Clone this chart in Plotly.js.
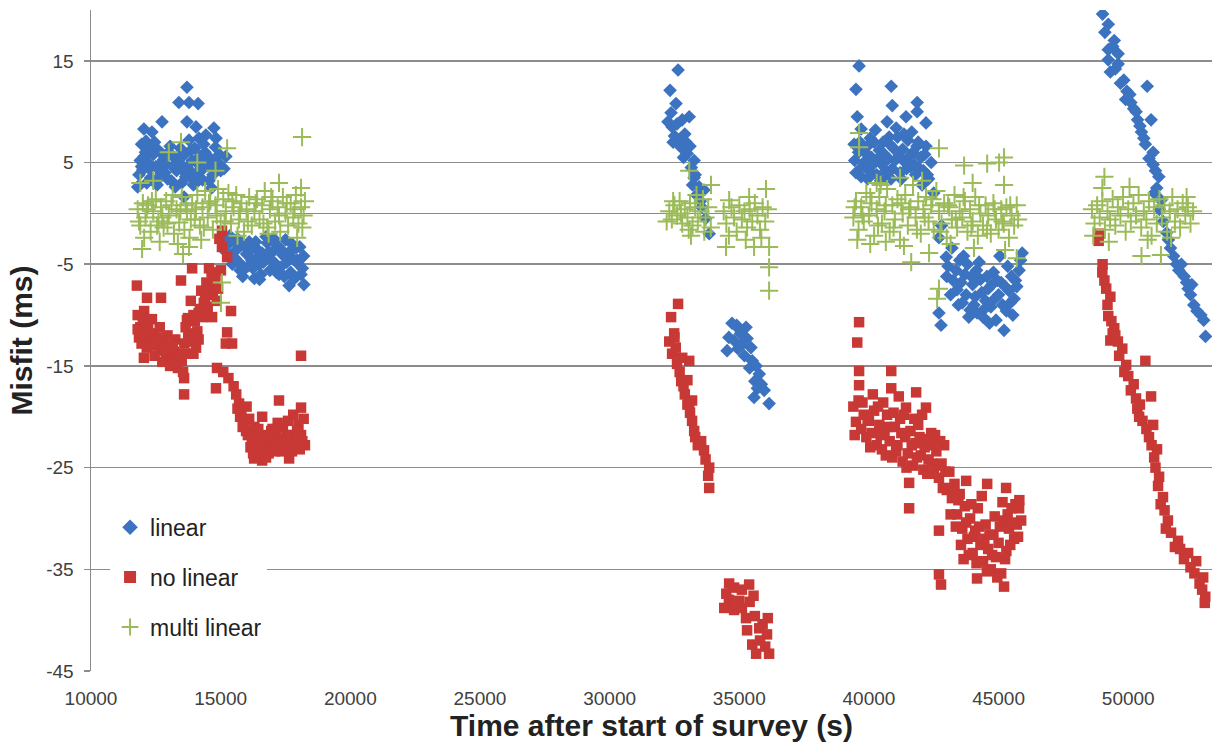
<!DOCTYPE html>
<html>
<head>
<meta charset="utf-8">
<script src="https://cdn.plot.ly/plotly-3.0.1.min.js"></script>
<style>html,body{margin:0;padding:0;background:#fff;}#chart{width:1212px;height:747px;}</style>
</head>
<body>
<div id="chart"></div>
<script>
// Series names
const seriesNames = ["linear", "no linear", "multi linear"];

// Y tick values (ms)
const yTicks = [-45, -35, -25, -15, -5, 5, 15];
// X tick values (s)
const xTicks = [10000, 15000, 20000, 25000, 30000, 35000, 40000, 45000, 50000];

// linear: [time (s), misfit (ms)]
const linearPts = [
  [13700,12.4],[13390,10.9],[13780,10.9],[14130,10.8],[12740,9.0],[13700,9.0],[12040,8.3],[12350,8.0],[14050,8.5],[14740,8.4],
  [12120,7.1],[14160,7.4],[14430,7.7],[14820,7.4],[13780,7.2],[13590,1.6],[15130,4.4],
  [11900,5.2],[12000,4.3],[12100,6.0],[12200,5.0],[12300,3.5],[12400,5.8],[12500,4.6],[12600,6.2],[12700,3.9],[12800,5.3],
  [12900,4.8],[13000,6.0],[13100,3.2],[13200,5.5],[13300,4.2],[13400,5.0],[13500,3.0],[13600,5.8],[13700,4.5],[13800,3.6],
  [13900,5.2],[14000,6.4],[14100,4.0],[14200,5.6],[14300,3.3],[14400,6.0],[14500,4.7],[14600,5.4],[14700,3.8],[14800,6.5],
  [14900,5.0],[15000,4.2],[12150,3.0],[12550,2.8],[13250,2.6],[13950,2.8],[14650,2.5],[11950,6.8],[12450,7.0],[13050,6.6],
  [14350,6.8],[11850,3.8],[12250,4.4],[12850,4.0],[13450,6.4],[14050,3.0],[14550,3.2],[15200,5.6],[11800,2.6],
  [11950,4.6],[12050,5.6],[12350,6.4],[12650,4.8],[12750,5.8],[12950,3.4],[13150,4.6],[13350,5.6],[13550,4.2],[13650,3.6],
  [13850,6.2],[14150,4.8],[14250,4.2],[14450,5.2],[14750,4.6],[14950,5.8],[12600,3.4],[13900,4.0],
  [15100,-2.3],[15300,-3.0],[15400,-4.2],[15500,-2.6],[15600,-3.6],[15700,-4.8],[15800,-3.1],[15900,-5.5],[16000,-4.0],[16100,-2.8],
  [16200,-4.6],[16300,-6.4],[16400,-3.5],[16500,-5.0],[16600,-3.9],[16700,-4.4],[16800,-2.9],[16900,-5.6],[17000,-3.8],[17100,-4.9],
  [17200,-3.2],[17300,-5.3],[17400,-4.1],[17500,-2.6],[17600,-3.9],[17640,-7.1],[17700,-5.8],[17800,-4.5],[17900,-3.4],[18000,-5.0],
  [18100,-6.0],[18210,-7.0],[18200,-4.2],[15850,-6.2],[16500,-6.5],[17250,-6.0],[15450,-5.0],[16750,-2.3],
  [15200,-3.8],[15350,-2.2],[15550,-4.4],[15650,-2.5],[15750,-5.6],[15950,-3.2],[16050,-5.2],[16150,-3.6],[16250,-5.4],[16350,-2.8],
  [16450,-4.2],[16550,-6.0],[16650,-4.8],[16850,-3.8],[16950,-4.6],[17050,-2.5],[17150,-5.8],[17350,-3.6],[17450,-6.2],[17550,-4.8],
  [17750,-3.0],[17850,-6.4],[17950,-4.6],[18050,-3.3],[18150,-5.4],
  [32640,14.1],[32330,12.1],[32560,10.8],[32370,9.9],[33070,9.5],[32250,9.0],[32410,8.5],[32600,8.8],[32800,9.2],[32500,7.6],
  [32680,7.2],[32900,7.8],[32750,6.5],[32990,5.9],[33100,6.6],[32850,5.5],[33260,5.2],[33150,4.5],[33300,3.8],[33260,3.5],
  [33450,2.6],[33350,1.8],[33640,2.3],[33500,1.2],[33840,-2.0],[32450,7.0],[32950,7.0],[33200,2.8],[33550,0.6],[33700,-0.5],
  [34720,-10.8],[35260,-11.2],[34900,-11.0],[35050,-11.8],[34600,-12.2],[34800,-12.5],[35100,-12.9],[35300,-12.3],[34530,-13.5],[34950,-13.3],
  [35200,-14.0],[35500,-14.5],[35400,-15.2],[35650,-15.0],[35770,-15.8],[35600,-16.5],[35850,-16.8],[35700,-17.2],[35960,-17.4],[35570,-18.1],
  [36150,-18.7],[35450,-13.2],[35000,-11.4],
  [39620,14.5],[39500,12.2],[40860,12.5],[40900,10.6],[41860,10.9],[41860,10.0],[39550,9.5],[40700,9.0],[41430,9.5],[42200,8.9],
  [39700,8.3],[40780,7.5],[39430,6.8],
  [39600,6.0],[39800,5.0],[39900,6.5],[40000,4.2],[40100,5.5],[40200,7.0],[40300,3.8],[40400,6.2],[40500,4.8],[40600,5.8],
  [40700,3.5],[40800,6.8],[40900,4.4],[41000,5.2],[41100,7.5],[41200,4.0],[41300,6.3],[41400,5.0],[41500,7.2],[41600,4.6],
  [41700,6.0],[41800,3.8],[41900,7.0],[42000,5.5],[42100,4.2],[42200,6.6],[42300,3.4],[42400,5.0],[39500,4.0],[39700,3.6],
  [40250,8.2],[41050,8.4],[41650,8.0],[42050,2.8],[42500,2.0],[39450,5.2],
  [39650,7.0],[39750,4.6],[39850,6.0],[39950,3.4],[40050,7.4],[40150,4.8],[40350,5.4],[40450,3.2],[40550,7.0],[40650,4.2],
  [40750,5.4],[40850,3.4],[40950,6.4],[41150,5.6],[41250,3.4],[41350,7.8],[41450,4.4],[41550,5.6],[41750,4.8],[41850,6.6],
  [41950,4.4],[42150,5.8],[42250,3.8],
  [42700,-2.4],[42980,-4.3],[43360,-5.6],[42800,-1.2],[43000,-6.2],[43200,-3.4],[43400,-7.5],[43500,-4.6],[43600,-8.8],[43700,-6.0],
  [43800,-5.0],[43900,-9.5],[44000,-7.0],[44100,-8.2],[44170,-9.8],[44300,-6.5],[44400,-10.2],[44500,-8.6],[44600,-7.4],[44700,-9.2],
  [44800,-5.8],[44900,-10.5],[45000,-8.0],[45100,-6.8],[45210,-11.5],[45300,-9.6],[45400,-7.6],[45500,-6.2],[45600,-8.4],[45790,-5.6],
  [45910,-3.9],[45700,-7.2],[42700,-9.8],[42780,-11.0],[43150,-8.0],[44250,-4.8],[45050,-4.2],
  [43050,-5.2],[43250,-6.6],[43450,-9.0],[43550,-6.8],[43650,-4.2],[43750,-8.0],[43850,-10.2],[43950,-6.2],[44050,-9.0],[44150,-5.6],
  [44350,-7.8],[44450,-9.4],[44550,-6.2],[44650,-10.8],[44750,-7.0],[44850,-8.4],[44950,-6.6],[45150,-9.0],[45250,-7.2],[45350,-5.2],
  [45450,-8.8],[45550,-10.0],[45650,-6.6],[45850,-4.6],
  [49010,19.6],[49230,18.6],[49460,17.0],[49230,16.1],[49610,15.7],[49230,15.1],[49610,14.7],[49310,13.9],[49830,13.1],[50060,11.7],
  [50730,12.5],[50210,10.3],[50360,9.2],[50880,9.2],[50510,8.0],[50660,6.8],[50960,6.0],[50960,4.8],[51180,3.6],[51260,1.3],
  [51480,-1.9],[51630,-3.4],[51860,-5.0],[52160,-6.2],[52310,-7.4],[52530,-9.0],[52910,-10.5],[52980,-12.1],
  [49100,17.8],[49400,16.4],[49500,14.2],[49700,12.8],[49950,12.0],[50100,10.9],[50300,10.0],[50450,8.6],[50600,7.4],[50800,5.4],
  [51050,4.2],[51100,2.5],[51200,0.4],[51350,-0.8],[51550,-2.6],[51750,-4.2],[51950,-5.6],[52050,-5.0],[52250,-6.8],[52400,-8.0],
  [52650,-9.6],[52800,-10.0],[52450,-7.0],[49900,11.2],[51000,2.0]
];

// no linear: [time (s), misfit (ms)]
const noLinearPts = [
  [15050,-1.7],[15050,-3.3],[15250,-4.3],[14950,-2.5],
  [11770,-7.1],[12160,-8.3],[12700,-8.3],[12040,-14.2],[13590,-16.2],[13590,-17.8],[13740,-10.3],[13470,-6.6],[13900,-5.4],[14550,-5.4],
  [15010,-5.6],[15200,-12.8],[15440,-12.8],[15250,-11.7],[15400,-9.6],[18100,-14.0],
  [11800,-10.0],[11900,-11.2],[12000,-10.5],[12100,-12.0],[12200,-11.0],[12300,-12.6],[12400,-11.8],[12500,-13.0],[12600,-12.2],[12700,-13.5],
  [12800,-12.8],[12900,-14.0],[13000,-13.2],[13100,-14.4],[13200,-13.6],[13300,-14.8],[13400,-13.8],[13500,-14.5],[11850,-12.2],[12050,-9.6],
  [12350,-10.4],[12650,-11.2],[12950,-12.0],[13250,-12.4],
  [11800,-11.4],[11950,-12.8],[12150,-13.2],[12250,-12.0],[12450,-14.0],[12550,-12.6],[12750,-14.6],[12850,-13.4],[13050,-15.0],[13150,-13.0],
  [13350,-15.2],[13450,-14.0],[13550,-15.6],
  [13600,-12.8],[13700,-13.8],[13800,-11.8],[13900,-12.6],[14000,-10.6],[14100,-11.6],[14200,-9.4],[14300,-10.2],[14400,-8.2],[14500,-9.2],
  [14600,-7.0],[14700,-8.0],[14800,-6.2],[14900,-7.4],[14250,-7.6],[14650,-5.8],[13850,-8.6],[14450,-6.8],[14050,-13.2],[13700,-10.5],[14670,-10.2],
  [13650,-11.2],[13750,-12.2],[13950,-10.0],[14150,-9.8],[14350,-8.8],[14550,-7.6],[14750,-6.6],[14850,-8.6],[14150,-12.4],[13950,-13.8],
  [14860,-15.2],[15100,-15.6],[15300,-16.2],[15500,-17.0],[15710,-18.7],[15600,-17.8],[15800,-19.8],[15900,-20.6],[15980,-21.4],[16100,-20.2],
  [16200,-22.2],[16300,-21.0],[16400,-23.0],[16500,-22.0],[16600,-24.3],[16700,-23.2],[16800,-21.8],[16900,-22.8],[17000,-21.2],[17100,-23.4],
  [17200,-20.6],[17300,-22.2],[17400,-21.0],[17500,-23.0],[17600,-20.4],[17640,-24.1],[17700,-21.8],[17800,-19.8],[17900,-22.6],[18000,-20.8],
  [18100,-21.8],[18200,-20.2],[18100,-19.1],[17250,-18.4],[16290,-24.1],[14820,-17.2],[16000,-19.0],[16150,-23.0],[16750,-24.0],[17450,-22.8],
  [17850,-23.0],[18250,-22.8],[16600,-20.0],
  [16350,-22.6],[16450,-21.2],[16550,-23.4],[16650,-22.2],[16850,-23.6],[16950,-21.4],[17050,-22.4],[17150,-21.2],[17350,-23.4],[17550,-21.8],
  [17650,-22.6],[17750,-23.4],[17950,-21.4],[18050,-23.2],[18150,-22.4],[15750,-20.0],[15850,-21.0],[16050,-21.8],[16250,-23.6],[15650,-19.2],
  [32640,-8.9],[32370,-10.2],[32490,-11.8],[32300,-12.6],[32410,-13.8],[32550,-13.2],[33070,-14.5],[32600,-14.8],[32700,-15.6],[32760,-16.5],
  [32850,-17.0],[32900,-17.8],[33180,-18.4],[33000,-18.8],[33070,-18.7],[33100,-19.6],[33180,-20.4],[33260,-21.4],[33300,-22.0],[33530,-22.4],
  [33400,-22.8],[33640,-23.3],[33700,-24.2],[33840,-25.0],[33800,-25.8],[33840,-27.0],[32500,-12.2],[32800,-14.2],[33000,-16.4],
  [34610,-36.4],[35380,-36.5],[34420,-38.8],[35000,-38.1],[35260,-39.8],[35770,-40.8],[35500,-42.4],[36150,-43.3],[36070,-41.4],[35650,-43.3],
  [34800,-36.8],[35100,-37.0],[34600,-38.0],[34800,-39.0],[35100,-38.8],[35400,-38.2],[35600,-39.6],[35900,-40.4],[35800,-42.0],[36000,-42.6],
  [35300,-41.0],[34500,-37.4],[35550,-37.6],[36100,-39.8],
  [39620,-10.7],[39550,-12.7],[39620,-15.5],[40860,-15.5],[39620,-16.9],[40860,-17.2],[41820,-17.6],[41430,-19.1],[42200,-19.1],[41550,-26.5],
  [41550,-29.0],[43750,-26.3],[44560,-26.6],[45290,-27.0],[42700,-31.2],[42700,-35.5],[42780,-36.5],[44170,-35.9],[45210,-36.7],[45790,-29.0],
  [45870,-30.2],
  [39400,-19.0],[39500,-20.5],[39600,-18.4],[39700,-21.2],[39800,-19.8],[39900,-22.0],[40000,-20.4],[40100,-21.6],[40200,-19.4],[40300,-22.8],
  [40400,-20.8],[40500,-23.2],[40600,-21.6],[40700,-19.8],[40800,-22.4],[40900,-24.0],[41000,-21.0],[41100,-22.8],[41200,-20.2],[41300,-24.4],
  [41400,-22.0],[41500,-23.6],[41600,-21.4],[41700,-24.8],[41800,-22.6],[41900,-20.8],[42000,-23.8],[42100,-25.2],[42200,-22.2],[42300,-24.2],
  [42400,-21.6],[42500,-25.6],[42600,-23.4],[42700,-26.0],[42800,-24.6],[42900,-22.8],[43000,-27.2],[40150,-17.8],[40550,-18.6],[41150,-18.0],
  [39450,-21.8],[39750,-18.6],[39950,-20.2],[40050,-23.0],[40350,-19.0],[40450,-21.8],[40650,-23.8],[40750,-21.0],[40950,-19.6],[41050,-23.4],
  [41250,-21.6],[41350,-19.8],[41450,-25.0],[41650,-22.8],[41750,-20.2],[41850,-24.0],[41950,-22.0],[42050,-19.8],[42150,-23.0],[42250,-25.6],
  [42350,-22.8],[42450,-24.6],[42550,-21.8],[42650,-24.8],[42750,-22.4],[42850,-27.0],[42950,-25.4],
  [43100,-25.4],[43200,-28.0],[43300,-26.6],[43400,-29.6],[43500,-27.6],[43600,-31.0],[43700,-28.8],[43800,-32.0],[43900,-30.0],[44000,-33.4],
  [44100,-31.2],[44200,-29.0],[44300,-32.6],[44400,-34.2],[44500,-30.6],[44600,-33.0],[44700,-35.0],[44800,-31.6],[44900,-33.8],[45000,-32.4],
  [45100,-35.4],[45200,-30.2],[45300,-33.2],[45400,-31.0],[45500,-29.0],[45600,-32.0],[45700,-30.6],[45800,-28.2],[43650,-34.0],[44350,-27.8],
  [45150,-28.4],
  [43150,-29.6],[43250,-27.0],[43350,-30.8],[43450,-28.2],[43550,-32.6],[43750,-30.4],[43850,-33.6],[43950,-28.6],[44050,-31.8],[44150,-34.4],
  [44250,-30.8],[44450,-32.0],[44550,-35.2],[44650,-31.6],[44750,-33.6],[44850,-29.8],[44950,-35.8],[45050,-30.8],[45250,-34.0],[45350,-29.6],
  [45450,-32.6],[45550,-30.4],[45650,-28.6],[45750,-31.8],
  [48860,-2.7],[48900,-2.0],[49010,-5.0],[49080,-6.6],[49310,-8.2],[49230,-10.1],[49460,-11.3],[49310,-12.5],[49770,-13.3],[49920,-14.9],
  [50660,-14.5],[50210,-16.8],[50880,-18.0],[50420,-20.0],[50960,-20.8],[51110,-23.2],[51190,-25.9],[51340,-27.9],[51530,-30.2],[51920,-32.2],
  [52310,-33.4],[52620,-34.2],[52890,-35.8],[52970,-37.7],
  [49000,-5.8],[49150,-7.4],[49200,-9.0],[49350,-10.6],[49400,-11.8],[49600,-12.6],[49650,-14.0],[49850,-15.6],[50000,-16.0],[50100,-17.4],
  [50300,-18.2],[50350,-19.2],[50550,-20.4],[50700,-21.2],[50800,-22.0],[50900,-22.8],[51000,-24.0],[51050,-25.0],[51150,-26.8],[51250,-28.6],
  [51400,-29.2],[51450,-31.0],[51650,-31.4],[51800,-32.8],[52000,-33.0],[52150,-34.0],[52400,-34.8],[52550,-35.4],[52750,-36.4],[52850,-37.0],
  [52950,-38.3],[50450,-18.8],[49500,-12.0]
];

// multi linear: [time (s), misfit (ms)]
const multiLinearPts = [
  [13470,7.0],[15250,6.4],[17250,3.0],[18100,2.5],[18140,7.5],[11970,-3.5],[13780,-3.3],[15050,-6.8],[15010,-8.8],[13000,6.0],
  [14100,5.0],[12400,3.2],[14800,4.2],[11900,3.0],
  [11800,0.4],[11900,-1.2],[12000,1.0],[12100,-0.4],[12200,0.8],[12300,-1.8],[12400,0.2],[12500,1.4],[12600,-0.8],[12700,0.6],
  [12800,-1.4],[12900,1.2],[13000,-0.2],[13100,0.8],[13200,-2.0],[13300,0.4],[13400,-0.9],[13500,1.6],[13600,-1.6],[13700,0.2],
  [13800,-2.4],[13900,1.0],[14000,-0.6],[14100,1.8],[14200,-1.2],[14300,0.6],[14400,2.2],[14500,-0.4],[14600,1.2],[14700,-1.6],
  [14800,0.8],[14900,2.4],[15000,-0.8],[15100,1.4],[15200,0.2],[15300,2.0],[15400,-1.0],[15500,0.6],[15600,1.8],[15700,-0.6],
  [15800,1.0],[15900,-1.8],[16000,0.4],[16100,1.6],[16200,-1.2],[16300,0.2],[16400,1.4],[16500,-0.6],[16600,0.8],[16700,2.2],
  [16800,-1.4],[16900,0.4],[17000,1.2],[17100,-0.8],[17200,0.6],[17300,-1.8],[17400,1.6],[17500,0.0],[17600,-1.2],[17700,1.0],
  [17800,-0.4],[17900,1.8],[18000,-1.0],[18100,0.6],[18200,-0.2],[18250,1.2],[12050,-2.4],[12650,-2.8],[13350,-3.0],[14250,-2.6],
  [15650,-2.2],[16850,-2.0],[17950,-2.4],[13550,-4.0],
  [11850,-0.8],[12150,0.4],[12350,1.2],[12550,-1.2],[12750,-0.4],[12950,-1.0],[13150,1.8],[13450,0.2],[13650,0.8],[13850,-0.6],
  [14050,0.4],[14350,-1.4],[14550,1.0],[14850,-0.2],[15150,-0.8],[15450,1.2],[15750,0.2],[16050,-0.8],[16350,1.0],[16650,-1.0],
  [16950,1.6],[17250,-0.2],[17550,1.0],[17850,0.4],[18150,-1.4],
  [32300,0.2],[32400,-0.6],[32500,0.8],[32600,-0.2],[32700,1.2],[32800,-1.0],[32900,0.4],[33000,-0.4],[33100,1.0],[33200,-1.2],
  [33300,0.6],[33400,-0.8],[33500,0.2],[33600,1.4],[33700,-0.4],[33800,0.6],[33900,-1.4],[33140,-2.2],[33910,2.8],[33070,4.2],
  [32450,1.2],[32750,0.0],[33050,-1.6],[33350,1.8],[33650,-1.8],[32200,-0.8],
  [34610,1.3],[35380,1.6],[36030,2.4],[34490,-3.3],[35570,-3.3],[36150,-3.3],[36150,-5.3],[36150,-7.6],[34400,0.2],[34500,-1.0],
  [34700,0.6],[34800,-0.4],[34900,-1.8],[35000,0.8],[35100,-0.6],[35200,0.2],[35300,-1.4],[35400,0.4],[35500,-0.8],[35600,1.0],
  [35700,-0.2],[35800,-1.6],[35900,0.6],[36000,-0.8],[36100,0.4],[34600,-2.2],[35250,-2.6],[35850,-2.4],
  [42700,6.4],[43670,4.7],[44560,4.9],[45210,5.5],[45020,5.0],[45210,2.8],[41630,-4.8],[42700,-7.4],[42630,-8.4],[42320,-3.9],
  [39620,7.9],[39620,6.5],[40300,3.0],[41200,3.5],[44000,3.0],[45700,-4.4],
  [39400,-0.4],[39500,1.2],[39600,-1.6],[39700,0.6],[39800,-0.8],[39900,2.0],[40000,-0.2],[40100,1.0],[40200,-2.2],[40300,0.4],
  [40400,1.6],[40500,-1.0],[40600,0.2],[40700,2.4],[40800,-1.8],[40900,0.8],[41000,-0.6],[41100,1.4],[41200,-2.6],[41300,0.0],
  [41400,1.8],[41500,-1.2],[41600,0.6],[41700,2.8],[41800,-0.4],[41900,1.2],[42000,-2.0],[42100,0.4],[42200,1.6],[42300,-0.8],
  [42400,0.8],[42500,-1.6],[42600,2.2],[42700,0.2],[42800,-1.0],[42900,1.0],[43000,-2.4],[43100,0.6],[43200,-0.6],[43300,1.8],
  [43400,-1.4],[43500,0.2],[43600,-0.4],[43700,1.2],[43800,-1.8],[43900,0.4],[44000,-0.8],[44100,1.6],[44200,-2.2],[44300,0.0],
  [44400,-1.2],[44500,0.8],[44600,-0.2],[44700,-2.0],[44800,1.0],[44900,-0.6],[45000,-1.6],[45100,0.4],[45200,-1.0],[45300,0.6],
  [45400,-2.4],[45500,-0.2],[45600,-1.2],[45700,0.8],[39550,-2.6],[40050,-3.0],[40650,-2.8],[41350,-3.2],[43150,-3.0],[44050,-3.4],
  [45250,-3.6],[40450,2.8],[42050,3.2],
  [39450,0.6],[39750,-0.2],[40050,1.6],[40350,-1.2],[40650,0.8],[40950,-1.4],[41250,1.0],[41550,0.4],[41850,-1.6],[42150,-0.4],
  [42450,1.4],[42750,-1.8],[43050,0.8],[43350,-0.6],[43650,1.6],[43950,-1.2],[44250,0.8],[44550,-1.6],[44850,0.4],[45150,-0.8],
  [45450,0.8],[45750,-0.6],
  [49080,3.6],[49000,2.5],[50510,-4.2],[51260,-4.1],[48600,0.4],[48700,-1.0],[48800,0.8],[48900,-0.4],[49000,1.2],[49100,-1.6],
  [49200,0.2],[49300,-0.6],[49400,1.4],[49500,-1.2],[49600,0.6],[49700,-0.2],[49800,1.6],[49900,-1.8],[50000,0.4],[50100,-0.8],
  [50200,1.0],[50300,-0.2],[50400,1.8],[50500,-1.4],[50600,0.2],[50700,-0.6],[50800,1.2],[50900,-2.2],[51000,0.6],[51100,-1.0],
  [51200,1.4],[51300,-0.4],[51400,0.8],[51500,-1.8],[51600,0.2],[51700,1.6],[51800,-0.8],[51900,0.4],[52000,-1.4],[52100,1.0],
  [52200,-0.2],[52300,0.6],[52400,-1.0],[52500,0.2],[49250,-2.8],[50050,2.6],[50750,-2.6],[51650,-2.4],[52250,1.6],[48650,-2.2]
];

const xs = pts => pts.map(p => p[0]);
const ys = pts => pts.map(p => p[1]);

const traces = [
  {
    type: 'scatter', mode: 'markers', name: seriesNames[0], legendgroup: 'a',
    x: xs(linearPts), y: ys(linearPts),
    marker: {symbol: 'diamond', size: 10.5, color: '#3c73c1', line: {width: 0}}
  },
  {
    type: 'scatter', mode: 'markers', name: seriesNames[1], legendgroup: 'b',
    x: xs(noLinearPts), y: ys(noLinearPts),
    marker: {symbol: 'square', size: 10.5, color: '#c83835', line: {width: 0}}
  },
  {
    type: 'scatter', mode: 'markers', name: seriesNames[2], legendgroup: 'c',
    x: xs(multiLinearPts), y: ys(multiLinearPts),
    marker: {symbol: 'cross-thin', size: 13, color: '#9bbb59', line: {width: 2, color: '#9bbb59'}}
  }
];

const gridCol = '#8c8c8c';
const tickCol = '#404040';
const layout = {
  width: 1212, height: 747,
  margin: {l: 91, r: 0, t: 10, b: 76},
  paper_bgcolor: '#ffffff', plot_bgcolor: '#ffffff',
  font: {family: 'Liberation Sans, Arial, sans-serif', size: 19, color: tickCol},
  showlegend: true,
  legend: {
    x: 0.017, y: 0.250, xanchor: 'left', yanchor: 'top',
    bgcolor: '#ffffff', borderwidth: 0,
    font: {size: 23, color: '#222222'},
    traceorder: 'grouped', tracegroupgap: 17,
    itemsizing: 'constant', itemwidth: 30
  },
  xaxis: {
    range: [10000, 53230], tickvals: xTicks, ticktext: xTicks.map(String),
    showgrid: false, zeroline: false,
    showline: false, ticks: '',
    ticklabelstandoff: 14,
    tickfont: {size: 19, color: tickCol},
    title: {text: 'Time after start of survey (s)', font: {size: 30, color: '#222222', family: 'Liberation Sans, Arial, sans-serif', weight: 'bold'}, standoff: 2}
  },
  yaxis: {
    range: [-45, 20], tickvals: yTicks, ticktext: yTicks.map(String),
    showgrid: true, gridcolor: gridCol, gridwidth: 1.5,
    zeroline: true, zerolinecolor: '#8a8a8a', zerolinewidth: 1.5,
    showline: true, linecolor: gridCol, linewidth: 1.5,
    ticks: 'outside', ticklen: 6, tickcolor: gridCol, tickwidth: 1.5,
    ticklabelstandoff: 6,
    tickfont: {size: 19, color: tickCol},
    title: {text: 'Misfit (ms)', font: {size: 30, color: '#222222', family: 'Liberation Sans, Arial, sans-serif', weight: 'bold'}, standoff: 4}
  }
};

Plotly.newPlot('chart', traces, layout, {staticPlot: true, displayModeBar: false});
</script>
</body>
</html>
